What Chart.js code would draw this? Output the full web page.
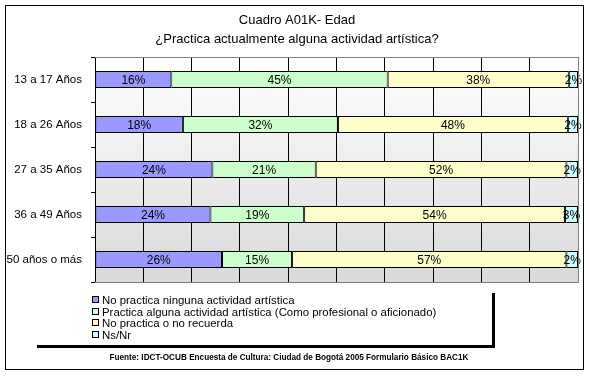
<!DOCTYPE html>
<html>
<head>
<meta charset="utf-8">
<script src="https://cdn.jsdelivr.net/npm/chart.js@4.4.1/dist/chart.umd.min.js"></script>
<style>
  body { margin: 0; background: #fff; }
</style>
</head>
<body>
<canvas id="edadChart" width="590" height="376"></canvas>
<script>
var categories = ["13 a 17 Años", "18 a 26 Años", "27 a 35 Años", "36 a 49 Años", "50 años o más"];
var noPractica = [15.8, 18.2, 24.3, 23.9, 26.3];
var practica = [44.8, 32.1, 21.4, 19.4, 14.5];
var noRecuerda = [37.5, 47.6, 51.9, 54.0, 56.8];
var nsNr = [1.9, 2.1, 2.4, 2.7, 2.4];
var seriesNames = [
    "No practica ninguna actividad artística",
    "Practica alguna actividad artística (Como profesional o aficionado)",
    "No practica o no recuerda",
    "Ns/Nr"
];
var seriesColors = ["#9999FF", "#CCFFCC", "#FFFFCC", "#CCFFFF"];
var xTicks = [0, 10, 20, 30, 40, 50, 60, 70, 80, 90, 100];
var titleLines = ["Cuadro A01K- Edad", "¿Practica actualmente alguna actividad artística?"];
var sourceText = "Fuente: IDCT-OCUB Encuesta de Cultura: Ciudad de Bogotá 2005 Formulario Básico BAC1K";

var FONT = "'Liberation Sans', Arial, sans-serif";

var allSeries = [noPractica, practica, noRecuerda, nsNr];
var datasets = allSeries.map(function (vals, i) {
    return {
        label: seriesNames[i],
        data: vals,
        backgroundColor: seriesColors[i],
        borderColor: "#000",
        borderWidth: 1,
        borderSkipped: false,
        categoryPercentage: 1,
        barPercentage: 0.38
    };
});

var excelLook = {
    id: "excelLook",
    beforeDraw: function (chart) {
        var c = chart.ctx, a = chart.chartArea;
        c.save();
        c.fillStyle = "#fff";
        c.fillRect(0, 0, chart.width, chart.height);
        var g = c.createLinearGradient(0, a.top, 0, a.bottom);
        g.addColorStop(0, "#ffffff");
        g.addColorStop(1, "#d9d9d9");
        c.fillStyle = g;
        c.fillRect(a.left, a.top, a.right - a.left, a.bottom - a.top);
        c.restore();
    },
    afterDatasetsDraw: function (chart) {
        var c = chart.ctx;
        c.save();
        c.font = "12px " + FONT;
        c.fillStyle = "#000";
        c.textAlign = "center";
        c.textBaseline = "middle";
        chart.data.datasets.forEach(function (ds, i) {
            chart.getDatasetMeta(i).data.forEach(function (bar, j) {
                var cx = (bar.x + bar.base) / 2;
                c.fillText(Math.round(ds.data[j]) + "%", cx, bar.y + 1);
            });
        });
        c.restore();
    },
    afterDraw: function (chart) {
        var c = chart.ctx, a = chart.chartArea;
        c.save();
        // borde gris del area de trazado
        c.strokeStyle = "#808080";
        c.lineWidth = 1;
        c.beginPath();
        c.moveTo(a.left, a.top + 0.5);
        c.lineTo(a.right + 0.5, a.top + 0.5);
        c.lineTo(a.right + 0.5, a.bottom + 0.5);
        c.lineTo(a.left, a.bottom + 0.5);
        c.stroke();

        // titulo
        c.fillStyle = "#000";
        c.textAlign = "center";
        c.textBaseline = "middle";
        c.font = "13px " + FONT;
        c.fillText(titleLines[0], 297, 20);
        c.fillText(titleLines[1], 297, 39);

        // leyenda con sombra
        c.fillStyle = "#000";
        c.fillRect(37, 345, 458, 3);
        c.fillRect(492, 293, 3, 55);
        c.textAlign = "left";
        c.font = "11.4px " + FONT;
        seriesNames.forEach(function (name, i) {
            var y = 300 + i * 11.5;
            c.fillStyle = seriesColors[i];
            c.fillRect(92, Math.round(y) - 3, 6, 6);
            c.strokeStyle = "#000";
            c.strokeRect(92.5, Math.round(y) - 3.5, 6, 6);
            c.fillStyle = "#000";
            c.fillText(name, 102, y + 1);
        });

        // fuente
        c.textAlign = "center";
        c.font = "bold 8.2px " + FONT;
        c.fillText(sourceText, 289, 358);

        // marco exterior
        c.strokeStyle = "#000";
        c.strokeRect(5.5, 5.5, 578, 364);
        c.restore();
    }
};

var ctx = document.getElementById("edadChart");
var edadChart = new Chart(ctx, {
    type: "bar",
    data: {
        labels: categories,
        datasets: datasets
    },
    options: {
        indexAxis: "y",
        responsive: false,
        animation: false,
        layout: {
            padding: { left: 0, top: 57, right: 12, bottom: 94 }
        },
        plugins: {
            legend: { display: false },
            title: { display: false },
            tooltip: { enabled: false }
        },
        scales: {
            x: {
                stacked: true,
                min: xTicks[0],
                max: xTicks[xTicks.length - 1],
                afterBuildTicks: function (scale) {
                    scale.ticks = xTicks.map(function (v) { return { value: v }; });
                },
                afterFit: function (scale) { scale.height = 0; },
                ticks: { display: false },
                grid: { color: "#000", lineWidth: 1, drawTicks: false },
                border: { display: false }
            },
            y: {
                stacked: true,
                afterFit: function (scale) { scale.width = 95; },
                ticks: {
                    color: "#000",
                    font: { family: FONT, size: 11.5 },
                    padding: 9
                },
                grid: {
                    drawOnChartArea: false,
                    offset: true,
                    tickLength: 4,
                    color: "#000"
                },
                border: { color: "#000" }
            }
        }
    },
    plugins: [excelLook]
});
</script>
</body>
</html>
